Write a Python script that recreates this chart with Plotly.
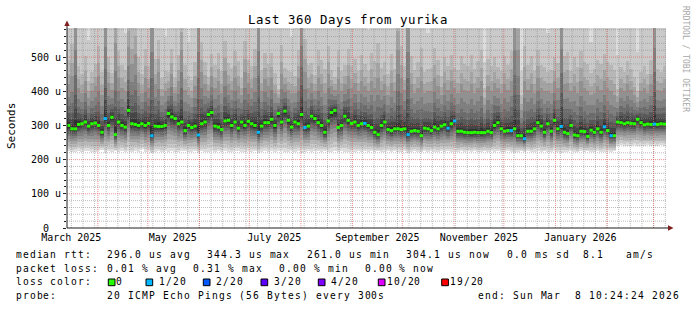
import numpy as np
import pandas as pd
import plotly.graph_objects as go

# ---------------- data ----------------
START = pd.Timestamp("2025-03-13 10:24:24")
END = pd.Timestamp("2026-03-08 10:24:24")
SLOT_DAYS = 2

# median rtt per 2-day slot (microseconds)
median_us = [
    300, 290, 290, 303, 305, 310, 298, 305, 307, 300, 280, 320, 300, 324, 273,
    310, 300, 295, 344, 305, 303, 300, 305, 300, 306, 270, 298, 297, 297, 300,
    335, 325, 320, 305, 310, 285, 300, 294, 298, 272, 305, 310, 332, 338, 298,
    295, 288, 313, 315, 300, 310, 292, 310, 300, 312, 305, 300, 280, 298, 308,
    308, 318, 300, 335, 310, 342, 315, 295, 310, 305, 332, 294, 298, 327, 320,
    308, 300, 280, 313, 338, 344, 294, 300, 327, 315, 306, 310, 300, 305, 306,
    300, 294, 280, 273, 300, 310, 288, 285, 290, 290, 288, 290, 273, 283, 285,
    283, 270, 292, 290, 285, 295, 290, 298, 302, 292, 305, 313, 283, 283, 280,
    279, 279, 280, 279, 279, 279, 283, 279, 300, 308, 290, 283, 285, 285, 290,
    270, 270, 261, 283, 283, 290, 308, 298, 280, 305, 283, 315, 290, 297, 280,
    276, 300, 272, 270, 283, 282, 268, 286, 280, 290, 280, 296, 285, 270, 270,
    310, 308, 305, 308, 306, 305, 318, 308, 302, 304, 303, 304, 303, 305, 304,
]

# lost pings (of 20) per slot
loss_20 = [
    0, 0, 0, 0, 0, 0, 0, 0, 0, 0, 0, 1, 0, 0, 0,
    0, 0, 0, 0, 0, 0, 0, 0, 0, 0, 1, 0, 0, 0, 0,
    0, 0, 0, 0, 0, 0, 0, 0, 0, 1, 0, 0, 0, 0, 0,
    0, 0, 0, 0, 0, 0, 0, 0, 0, 0, 0, 0, 1, 0, 0,
    0, 0, 0, 0, 0, 0, 0, 0, 0, 0, 0, 1, 0, 0, 0,
    0, 0, 0, 0, 0, 0, 0, 0, 0, 0, 0, 0, 0, 0, 1,
    0, 0, 0, 0, 0, 0, 0, 0, 0, 0, 0, 0, 1, 0, 0,
    0, 0, 0, 0, 0, 0, 0, 0, 0, 1, 0, 1, 0, 0, 0,
    0, 0, 0, 0, 0, 0, 0, 0, 0, 0, 0, 0, 0, 1, 0,
    0, 0, 1, 0, 0, 0, 0, 0, 0, 0, 0, 0, 0, 1, 0,
    0, 0, 0, 0, 0, 0, 0, 0, 0, 0, 0, 1, 0, 1, 0,
    0, 0, 0, 0, 0, 0, 0, 0, 0, 0, 0, 1, 0, 0, 0,
]

# smoke: fastest ping per slot (us)
smoke_min_us = [
    224, 221, 223, 225, 222, 224, 226, 223, 221, 224, 228, 219, 225, 222, 224,
    223, 226, 222, 224, 221, 225, 223, 230, 222, 224, 218, 223, 225, 222, 224,
    222, 225, 223, 221, 224, 226, 222, 223, 225, 219, 224, 222, 223, 226, 222,
    224, 222, 225, 223, 221, 224, 226, 222, 223, 225, 222, 224, 219, 223, 225,
    223, 225, 222, 224, 226, 223, 221, 224, 222, 225, 219, 223, 224, 222, 225,
    224, 222, 225, 223, 221, 224, 222, 226, 223, 221, 224, 222, 225, 223, 224,
    222, 225, 223, 224, 221, 223, 225, 222, 224, 223, 221, 224, 219, 223, 225,
    223, 221, 224, 222, 225, 223, 221, 224, 222, 225, 223, 224, 222, 225, 223,
    224, 222, 225, 223, 221, 224, 222, 225, 223, 224, 222, 221, 224, 222, 219,
    223, 225, 222, 224, 221, 223, 225, 222, 224, 223, 221, 224, 222, 219, 223,
    222, 224, 223, 221, 225, 222, 224, 223, 221, 224, 222, 223, 225, 222, 224,
    240, 242, 239, 241, 240, 243, 239, 241, 240, 242, 239, 241, 240, 242, 241,
]

# smoke: 16th of 20 sorted pings per slot (us)
smoke_p16_us = [
    420, 445, 620, 410, 395, 430, 380, 400, 415, 445, 390, 620, 425, 405, 540,
    440, 410, 400, 530, 480, 510, 425, 395, 440, 410, 620, 420, 455, 385, 400,
    410, 450, 395, 430, 520, 405, 390, 380, 415, 620, 455, 420, 400, 445, 410,
    430, 395, 460, 420, 405, 440, 415, 390, 455, 425, 410, 440, 620, 400, 435,
    415, 440, 395, 380, 450, 420, 405, 395, 395, 440, 620, 455, 410, 425, 400,
    440, 420, 395, 450, 415, 405, 435, 400, 420, 445, 410, 425, 400, 430, 415,
    400, 430, 410, 440, 405, 420, 390, 425, 400, 520, 440, 405, 620, 420, 395,
    410, 430, 395, 400, 400, 440, 415, 390, 425, 405, 430, 410, 395, 420, 405,
    400, 420, 395, 410, 430, 360, 415, 400, 425, 410, 395, 420, 405, 430, 620,
    520, 345, 430, 405, 420, 395, 440, 410, 400, 400, 395, 430, 410, 620, 420,
    425, 400, 415, 395, 430, 410, 400, 390, 395, 415, 405, 430, 410, 400, 390,
    370, 410, 400, 420, 405, 390, 370, 400, 410, 395, 420, 620, 405, 400, 410,
]

# smoke: 19th of 20 sorted pings per slot (us); 800 = beyond the top
smoke_p19_us = [
    800, 800, 800, 800, 800, 800, 550, 800, 800, 800, 800, 800, 800, 800, 800,
    800, 800, 570, 800, 800, 800, 800, 800, 800, 800, 800, 800, 800, 800, 560,
    800, 800, 800, 800, 800, 800, 545, 800, 800, 800, 800, 800, 800, 800, 800,
    800, 800, 800, 800, 800, 800, 800, 800, 800, 800, 800, 800, 800, 800, 800,
    800, 800, 800, 800, 800, 800, 800, 560, 800, 800, 800, 800, 800, 800, 800,
    800, 800, 800, 800, 800, 800, 800, 800, 800, 800, 800, 800, 800, 800, 800,
    580, 800, 800, 800, 800, 800, 800, 800, 800, 800, 800, 800, 800, 800, 800,
    800, 800, 800, 570, 800, 800, 800, 800, 800, 800, 800, 800, 800, 800, 800,
    800, 800, 800, 800, 800, 485, 800, 800, 800, 800, 800, 800, 800, 800, 800,
    800, 460, 800, 800, 800, 800, 800, 800, 800, 570, 800, 800, 800, 800, 800,
    800, 800, 800, 800, 800, 800, 800, 545, 800, 800, 800, 800, 800, 800, 800,
    505, 800, 800, 800, 800, 800, 515, 800, 800, 800, 800, 800, 800, 800, 800,
]

# shape of the ping distribution between the read levels
LOWER_FRAC = [0.0, 0.10, 0.22, 0.35, 0.47, 0.58, 0.68, 0.77, 0.85, 0.92]
UPPER_FRAC = [0.08, 0.18, 0.30, 0.48, 0.70, 1.0]

Y_MAX = 585
y_tickvals = [0, 100, 200, 300, 400, 500]
y_ticktext = ["0\u00a0\u00a0", "100 u", "200 u", "300 u", "400 u", "500 u"]
month_labels = ["March 2025", "May 2025", "July 2025", "September 2025",
                "November 2025", "January 2026"]
month_label_dates = ["2025-03-16", "2025-05-16", "2025-07-16", "2025-09-16",
                     "2025-11-16", "2026-01-16"]

loss_names = ["0", "1/20", "2/20", "3/20", "4/20", "10/20", "19/20"]
loss_cols = ["#26ff00", "#00b8ff", "#0059ff", "#5e00ff", "#7e00ff", "#dd00ff", "#ff0000"]

title_text = "Last 360 Days from yurika"

# ---------------- helpers ----------------
MONO = "DejaVu Sans Mono"
W, H = 697, 310
ML, MR, MT, MB = 67, 31, 28, 82
PW, PH = W - ML - MR, H - MT - MB


def PX(px):
    return (px - ML) / PW


def PY(py):
    return (H - MB - py) / PH


def ts(t):
    return pd.Timestamp(t).strftime("%Y-%m-%d %H:%M:%S")


n = len(median_us)
m = np.array(median_us, float)
lo = np.array(smoke_min_us, float)
p16 = np.array(smoke_p16_us, float)
p19 = np.array(smoke_p19_us, float)

pings = np.zeros((20, n))
for k, f in enumerate(LOWER_FRAC):
    pings[k] = lo + (m - lo) * f
for k, f in enumerate(UPPER_FRAC):
    pings[10 + k] = m + (p16 - m) * f
pings[17] = np.minimum(p16 + 0.6 * (p16 - m), p19 - 10)
pings[16] = np.minimum(p16 + 0.25 * (p16 - m), pings[17] - 5)
pings[18] = p19
pings[19] = np.maximum(p19 + 150, 800)

ny = PH
dy = Y_MAX / ny
yc = (np.arange(ny) + 0.5) * dy
z = np.full((ny, n), np.nan)
for k in range(10):
    inside = (yc[:, None] >= pings[k][None, :]) & (yc[:, None] <= pings[19 - k][None, :])
    z[inside] = k + 1

grays = [int(190 / 10 * (10 - ib)) + 50 for ib in range(1, 11)]
cs = []
for k, g in enumerate(grays):
    c = f"rgb({g},{g},{g})"
    cs.append([k / 10, c])
    cs.append([(k + 1) / 10, c])

slot_start = [START + pd.Timedelta(days=SLOT_DAYS * i) for i in range(n)]
slot_end = [START + pd.Timedelta(days=SLOT_DAYS * (i + 1)) for i in range(n)]
slot_mid = [START + pd.Timedelta(days=SLOT_DAYS * i + SLOT_DAYS / 2) for i in range(n)]

fig = go.Figure()
fig.add_trace(go.Heatmap(
    x=[ts(t) for t in slot_mid], y=yc, z=z, colorscale=cs, zmin=0.5, zmax=10.5,
    showscale=False, hoverinfo="skip", zsmooth=False))


# grid on top of smoke
def hlines(vals):
    xs, ys = [], []
    for v in vals:
        xs += [ts(START), ts(END), None]
        ys += [v, v, None]
    return xs, ys


def vlines(dates):
    xs, ys = [], []
    for d in dates:
        xs += [ts(d), ts(d), None]
        ys += [0, Y_MAX, None]
    return xs, ys


GRID_C = "rgba(143,143,143,0.6)"
MGRID_C = "rgba(222,79,79,0.6)"
weeks = pd.date_range("2025-03-16", END, freq="7D")
months = pd.date_range("2025-04-01", END, freq="MS")
minor_vals = [v for v in range(20, Y_MAX, 20) if v % 100 != 0]
for (xs, ys), col in [(hlines(minor_vals), GRID_C), (vlines(weeks), GRID_C),
                      (hlines(y_tickvals[1:]), MGRID_C), (vlines(months), MGRID_C)]:
    fig.add_trace(go.Scatter(x=xs, y=ys, mode="lines", hoverinfo="skip",
                             line=dict(color=col, width=1, dash="1px,1px")))

# median bands coloured by loss
for li, col in enumerate(loss_cols[:2]):
    xs, ys = [], []
    for i in range(n):
        if loss_20[i] == li:
            xs += [ts(slot_start[i]), ts(slot_end[i]), None]
            ys += [median_us[i], median_us[i], None]
    fig.add_trace(go.Scatter(x=xs, y=ys, mode="lines", hoverinfo="skip",
                             line=dict(color=col, width=3)))

annos = []
shapes = []


def add_text(text, x_start, baseline, adv, size, color="black"):
    for i, ch in enumerate(text):
        if ch == " ":
            continue
        cx = x_start + (i + 0.5) * adv
        annos.append(dict(text=ch, x=PX(cx), y=PY(baseline - 0.346 * size),
                          xref="paper", yref="paper", xanchor="center", yanchor="middle",
                          showarrow=False, font=dict(family=MONO, size=size, color=color)))


LEG = 9.6
ADV = 6.95
# title
add_text(title_text, 247, 24, 8.0, 12.4)
# legend rows
row_b = [258.3, 271.7, 285.3, 298.7]
line1 = [("median rtt:", 16), ("296.0 us avg", 107.7), ("344.3 us max", 207.3),
         ("261.0 us min", 307.3), ("304.1 us now", 406.7), ("0.0 ms sd", 507.3),
         ("8.1", 583.3), ("am/s", 626.7)]
line2 = [("packet loss:", 16), ("0.01 % avg", 107.7), ("0.31 % max", 193.3),
         ("0.00 % min", 279.3), ("0.00 % now", 365)]
line4 = [("probe:", 16), ("20 ICMP Echo Pings (56 Bytes) every 300s", 107.7),
         ("end: Sun Mar  8 10:24:24 2026", 478.3)]
for row, items in [(0, line1), (1, line2), (3, line4)]:
    for txt, x in items:
        add_text(txt, x - 0.8, row_b[row], ADV, LEG)
add_text("loss color:", 15.2, row_b[2], ADV, LEG)
box_x = [108.3, 146, 203.3, 261, 318.3, 378.3, 441.7]
lab_x = [116.7, 159, 216, 274, 331, 387, 450]
for bx, lx, name, col in zip(box_x, lab_x, loss_names, loss_cols):
    shapes.append(dict(type="rect", xref="paper", yref="paper",
                       x0=PX(bx), x1=PX(bx + 6.7), y0=PY(285.7), y1=PY(279),
                       fillcolor=col, line=dict(color="black", width=1)))
    add_text(name, lx - 0.8, row_b[2], ADV, LEG)

# y axis title and watermark
annos.append(dict(text="Seconds", x=PX(11), y=PY(126), xref="paper", yref="paper",
                  xanchor="center", yanchor="middle", showarrow=False, textangle=-90,
                  font=dict(family=MONO, size=11, color="black")))
annos.append(dict(text="RRDTOOL / TOBI OETIKER", x=PX(686), y=PY(59), xref="paper",
                  yref="paper", xanchor="center", yanchor="middle", showarrow=False,
                  textangle=90, font=dict(family=MONO, size=8, color="#a8a8a8")))

# axis lines and arrows
AX_C = "#1f1f1f"
ARROW_C = "#7f1f1f"
shapes.append(dict(type="line", xref="paper", yref="paper", x0=PX(67), x1=PX(669),
                   y0=PY(228), y1=PY(228), line=dict(color=AX_C, width=1), layer="above"))
shapes.append(dict(type="line", xref="paper", yref="paper", x0=PX(67), x1=PX(67),
                   y0=PY(228), y1=PY(25), line=dict(color=AX_C, width=1), layer="above"))
shapes.append(dict(type="path", xref="paper", yref="paper", layer="above",
                   path=f"M{PX(673.5)},{PY(228)} L{PX(668)},{PY(225.3)} L{PX(668)},{PY(230.7)} Z",
                   fillcolor=ARROW_C, line=dict(color=ARROW_C, width=0)))
shapes.append(dict(type="path", xref="paper", yref="paper", layer="above",
                   path=f"M{PX(67)},{PY(20.5)} L{PX(64.3)},{PY(26)} L{PX(69.7)},{PY(26)} Z",
                   fillcolor=ARROW_C, line=dict(color=ARROW_C, width=0)))

fig.update_layout(
    width=W, height=H, margin=dict(l=ML, r=MR, t=MT, b=MB, pad=0),
    paper_bgcolor="white", plot_bgcolor="white", showlegend=False,
    annotations=annos, shapes=shapes,
    xaxis=dict(type="date", range=[ts(START), ts(END)], showgrid=False, zeroline=False,
               tickvals=month_label_dates, ticktext=month_labels, ticks="",
               ticklabelstandoff=2,
               tickfont=dict(family=MONO, size=10, color="black"), showline=False),
    yaxis=dict(range=[0, Y_MAX], showgrid=False, zeroline=False, tickvals=y_tickvals,
               ticktext=y_ticktext, ticks="outside", ticklen=3, tickcolor=AX_C,
               tickfont=dict(family=MONO, size=10, color="black"), showline=False,
               minor=dict(dtick=20, ticks="outside", ticklen=2, tickcolor=AX_C, showgrid=False)),
)

fig.write_html("out.html")
